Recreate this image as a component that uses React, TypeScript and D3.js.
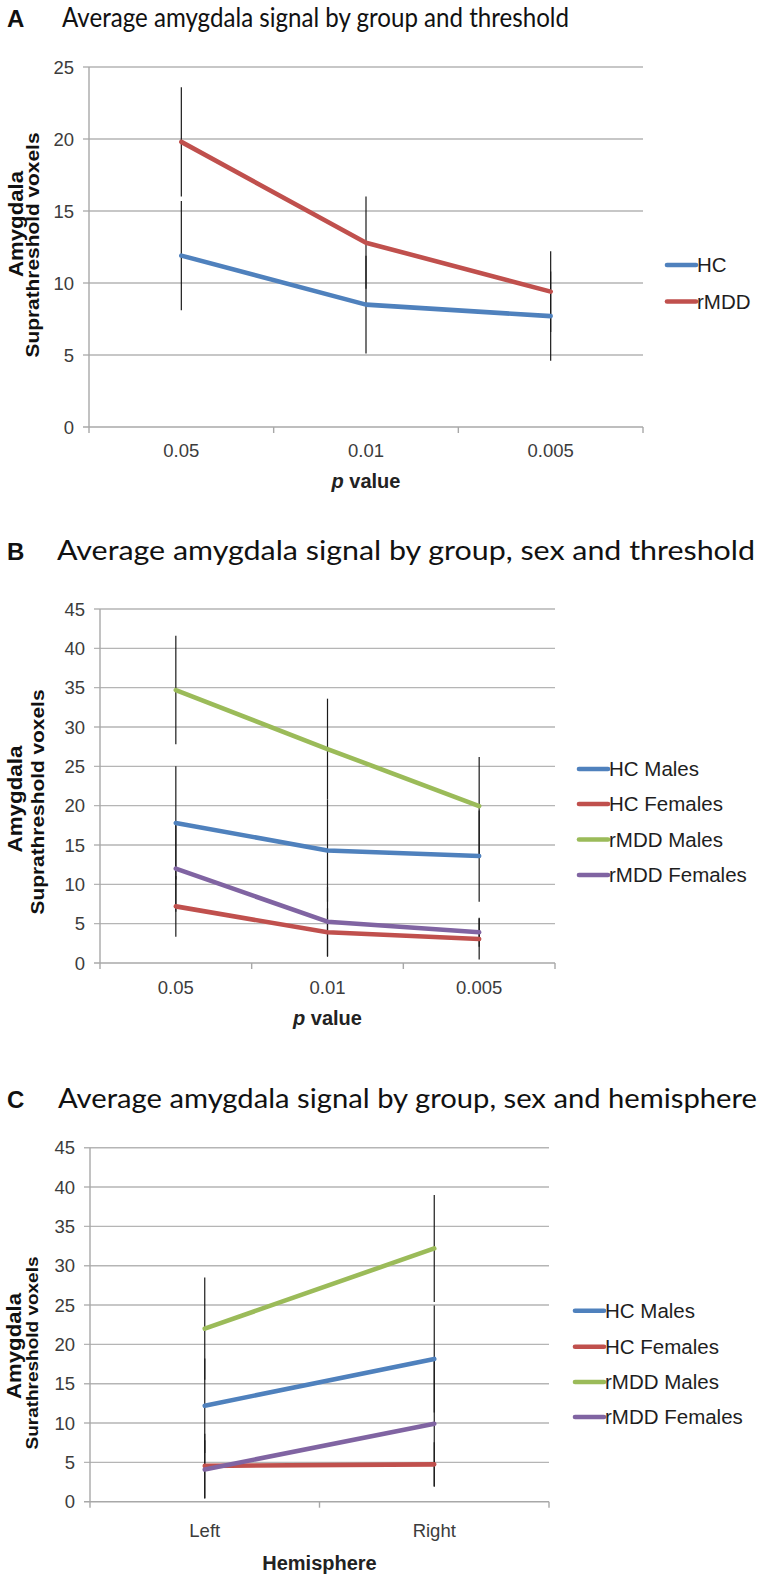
import React from 'react';
import * as d3 from 'd3';

// ---------- data ----------
const pCategories = ['0.05', '0.01', '0.005'];
const hemiCategories = ['Left', 'Right'];
const yTicksA = [0, 5, 10, 15, 20, 25];
const yTicksBC = [0, 5, 10, 15, 20, 25, 30, 35, 40, 45];

const seriesNamesA = ['HC', 'rMDD'];
const seriesNamesBC = ['HC Males', 'HC Females', 'rMDD Males', 'rMDD Females'];

// Panel A
const aHC = [11.9, 8.5, 7.7];
const aHCErr = [3.8, 3.4, 3.1];
const aRMDD = [19.8, 12.8, 9.4];
const aRMDDErr = [3.8, 3.2, 2.8];

// Panel B
const bHCM = [17.8, 14.3, 13.6];
const bHCMErr = [7.2, 6.5, 5.8];
const bHCF = [7.2, 3.9, 3.05];
const bHCFErr = [3.85, 3.05, 2.6];
const bRMM = [34.7, 27.2, 19.95];
const bRMMErr = [6.9, 6.4, 6.25];
const bRMF = [12.0, 5.25, 3.9];
const bRMFErr = [5.5, 4.45, 1.85];

// Panel C
const cHCM = [12.2, 18.15];
const cHCMErr = [6.0, 6.8];
const cHCF = [4.55, 4.75];
const cHCFErr = [4.1, 2.8];
const cRMM = [22.0, 32.2];
const cRMMErr = [6.5, 6.8];
const cRMF = [4.1, 9.9];
const cRMFErr = [3.7, 8.0];

// ---------- styles ----------
const BLUE = '#4f81bd';
const RED = '#c0504d';
const GREEN = '#9bbb59';
const PURPLE = '#8064a2';
const colorsA = [BLUE, RED];
const colorsBC = [BLUE, RED, GREEN, PURPLE];

const SANS = '"Liberation Sans", Arial, Helvetica, sans-serif';
const TITLE_FONT = 'Lato, "Open Sans", sans-serif';

type Series = { name: string; values: number[]; err: number[]; color: string };

type PanelCfg = {
  letter: string;
  title: string;
  titleX: number;
  titleLen: number;
  titleY: number;
  cats: string[];
  yMax: number;
  yTicks: number[];
  left: number;
  right: number;
  top: number;
  bottom: number;
  series: Series[];
  legendX: number;
  legendYs: number[];
  xTitle: 'p' | 'hemi';
  xLabelY: number;
  xTitleY: number;
  y1: string;
  y1x: number;
  y1c: number;
  y1len: number;
  y2: string;
  y2x: number;
  y2c: number;
  y2len: number;
  y2size: number;
};

const mk = (names: string[], vals: number[][], errs: number[][], cols: string[]): Series[] =>
  names.map((n, i) => ({ name: n, values: vals[i], err: errs[i], color: cols[i] }));

const panels: PanelCfg[] = [
  {
    letter: 'A',
    title: 'Average amygdala signal by group and threshold',
    titleX: 62, titleLen: 507, titleY: 27,
    cats: pCategories, yMax: 25, yTicks: yTicksA,
    left: 89, right: 643, top: 67, bottom: 427,
    series: mk(seriesNamesA, [aHC, aRMDD], [aHCErr, aRMDDErr], colorsA),
    legendX: 667, legendYs: [265, 301.5],
    xTitle: 'p', xLabelY: 457, xTitleY: 488,
    y1: 'Amygdala', y1x: 23, y1c: 224, y1len: 106,
    y2: 'Suprathreshold voxels', y2x: 39, y2c: 245, y2len: 225, y2size: 18,
  },
  {
    letter: 'B',
    title: 'Average amygdala signal by group, sex and threshold',
    titleX: 57, titleLen: 698, titleY: 560,
    cats: pCategories, yMax: 45, yTicks: yTicksBC,
    left: 100, right: 555, top: 609, bottom: 963,
    series: mk(seriesNamesBC, [bHCM, bHCF, bRMM, bRMF], [bHCMErr, bHCFErr, bRMMErr, bRMFErr], colorsBC),
    legendX: 579, legendYs: [769, 804, 839.5, 875],
    xTitle: 'p', xLabelY: 994, xTitleY: 1025,
    y1: 'Amygdala', y1x: 22, y1c: 799, y1len: 107,
    y2: 'Suprathreshold voxels', y2x: 44, y2c: 802, y2len: 225, y2size: 19,
  },
  {
    letter: 'C',
    title: 'Average amygdala signal by group, sex and hemisphere',
    titleX: 58, titleLen: 699, titleY: 1108,
    cats: hemiCategories, yMax: 45, yTicks: yTicksBC,
    left: 90, right: 549, top: 1147.7, bottom: 1501.7,
    series: mk(seriesNamesBC, [cHCM, cHCF, cRMM, cRMF], [cHCMErr, cHCFErr, cRMMErr, cRMFErr], colorsBC),
    legendX: 575, legendYs: [1310.7, 1346.7, 1382, 1417],
    xTitle: 'hemi', xLabelY: 1537, xTitleY: 1570,
    y1: 'Amygdala', y1x: 21, y1c: 1346, y1len: 106,
    y2: 'Surathreshold voxels', y2x: 38, y2c: 1353, y2len: 193, y2size: 17,
  },
];

const GRID = '#b5b5b5';
const AXIS = '#a8a8a8';

function Panel({ c }: { c: PanelCfg }) {
  const x = d3.scaleBand<string>().domain(c.cats).range([c.left, c.right]).paddingInner(0).paddingOuter(0);
  const y = d3.scaleLinear().domain([0, c.yMax]).range([c.bottom, c.top]);
  const cx = (i: number) => (x(c.cats[i]) as number) + x.bandwidth() / 2;
  const line = d3
    .line<number>()
    .x((_, i) => cx(i))
    .y((d) => y(d));
  const boundaries = [...c.cats.map((k) => x(k) as number), c.right];

  return (
    <g>
      {/* panel letter + title */}
      <text x={7} y={c.titleY} fontFamily={SANS} fontWeight="bold" fontSize={24} fill="#111">
        {c.letter}
      </text>
      <text
        x={c.titleX}
        y={c.titleY}
        fontFamily={TITLE_FONT}
        fontSize={26}
        fill="#111"
        textLength={c.titleLen}
        lengthAdjust="spacingAndGlyphs"
      >
        {c.title}
      </text>

      {/* gridlines */}
      {c.yTicks.map((t) => (
        <line key={'g' + t} x1={c.left - 6} x2={c.right} y1={y(t)} y2={y(t)} stroke={t === 0 ? AXIS : GRID} strokeWidth={1.4} />
      ))}
      {/* y axis */}
      <line x1={c.left} x2={c.left} y1={c.top} y2={c.bottom} stroke={AXIS} strokeWidth={1.4} />
      {/* x ticks */}
      {boundaries.map((b, i) => (
        <line key={'xt' + i} x1={b} x2={b} y1={c.bottom} y2={c.bottom + 6} stroke={AXIS} strokeWidth={1.4} />
      ))}
      {/* y tick labels */}
      {c.yTicks.map((t) => (
        <text
          key={'yl' + t}
          x={c.left - 15}
          y={y(t)}
          dy="0.36em"
          textAnchor="end"
          fontFamily={SANS}
          fontSize={18.5}
          fill="#3c3c3c"
        >
          {t}
        </text>
      ))}
      {/* x tick labels */}
      {c.cats.map((k, i) => (
        <text key={'xl' + k} x={cx(i)} y={c.xLabelY} textAnchor="middle" fontFamily={SANS} fontSize={18.5} fill="#3c3c3c">
          {k}
        </text>
      ))}
      {/* x axis title */}
      <text
        x={(c.left + c.right) / 2}
        y={c.xTitleY}
        textAnchor="middle"
        fontFamily={SANS}
        fontWeight="bold"
        fontSize={20}
        fill="#222"
      >
        {c.xTitle === 'p' ? (
          <>
            <tspan fontStyle="italic">p</tspan> value
          </>
        ) : (
          'Hemisphere'
        )}
      </text>
      {/* y axis titles */}
      <text
        transform={`translate(${c.y1x},${c.y1c}) rotate(-90)`}
        textAnchor="middle"
        fontFamily={SANS}
        fontWeight="bold"
        fontSize={21}
        fill="#111"
        textLength={c.y1len}
        lengthAdjust="spacingAndGlyphs"
      >
        {c.y1}
      </text>
      <text
        transform={`translate(${c.y2x},${c.y2c}) rotate(-90)`}
        textAnchor="middle"
        fontFamily={SANS}
        fontWeight="bold"
        fontSize={c.y2size}
        fill="#111"
        textLength={c.y2len}
        lengthAdjust="spacingAndGlyphs"
      >
        {c.y2}
      </text>

      {/* error bars */}
      {c.series.map((s) =>
        s.values.map((v, i) => (
          <line
            key={'e' + s.name + i}
            x1={cx(i)}
            x2={cx(i)}
            y1={y(Math.max(0, v - s.err[i]))}
            y2={y(v + s.err[i])}
            stroke="#1a1a1a"
            strokeWidth={1.2}
          />
        ))
      )}
      {/* series lines */}
      {c.series.map((s) => (
        <path
          key={'l' + s.name}
          d={line(s.values) || ''}
          fill="none"
          stroke={s.color}
          strokeWidth={4.6}
          strokeLinecap="round"
          strokeLinejoin="round"
        />
      ))}
      {/* legend */}
      {c.series.map((s, i) => (
        <g key={'lg' + s.name}>
          <line
            x1={c.legendX}
            x2={c.legendX + 29}
            y1={c.legendYs[i]}
            y2={c.legendYs[i]}
            stroke={s.color}
            strokeWidth={4.6}
            strokeLinecap="round"
          />
          <text x={c.legendX + 30} y={c.legendYs[i]} dy="0.36em" fontFamily={SANS} fontSize={20.5} fill="#1e1e1e">
            {s.name}
          </text>
        </g>
      ))}
    </g>
  );
}

export default function App() {
  return (
    <svg
      width={763}
      height={1579}
      viewBox="0 0 763 1579"
      style={{ position: 'absolute', left: 0, top: 0, background: '#fff' }}
    >
      <rect x={0} y={0} width={763} height={1579} fill="#fff" />
      {panels.map((p) => (
        <Panel key={p.letter} c={p} />
      ))}
    </svg>
  );
}
